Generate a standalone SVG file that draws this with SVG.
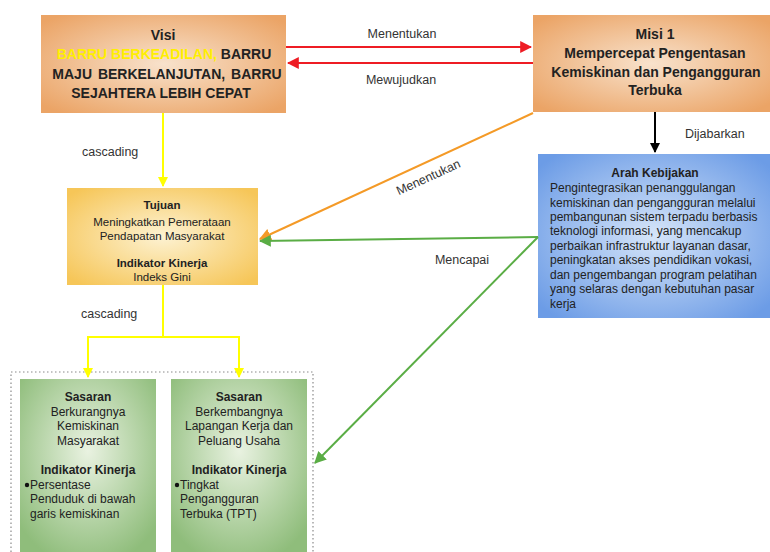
<svg xmlns="http://www.w3.org/2000/svg" width="770" height="552" viewBox="0 0 770 552">
<style>
text{font-family:"Liberation Sans",Arial,sans-serif;fill:#222}
.b{font-weight:bold}
.t12{font-size:12px}
.t11{font-size:11.5px}
.c{text-anchor:middle}
.lbl{font-size:12.5px;fill:#333}
.line{fill:none;stroke-width:2}
</style>
<defs>
<radialGradient id="gOr" cx="50%" cy="50%" r="65%">
<stop offset="0" stop-color="#f8e2cc"/><stop offset="1" stop-color="#eba466"/>
</radialGradient>
<radialGradient id="gYe" cx="50%" cy="50%" r="65%">
<stop offset="0" stop-color="#fdf2d2"/><stop offset="1" stop-color="#f6c658"/>
</radialGradient>
<radialGradient id="gBl" cx="50%" cy="50%" r="65%">
<stop offset="0" stop-color="#d6e5f9"/><stop offset="1" stop-color="#6c9ce6"/>
</radialGradient>
<radialGradient id="gGr" cx="50%" cy="40%" r="65%">
<stop offset="0" stop-color="#e9f2e1"/><stop offset="1" stop-color="#8fbd7b"/>
</radialGradient>
<marker id="aRed" viewBox="0 0 10 10" refX="9" refY="5" markerWidth="6" markerHeight="6" orient="auto" markerUnits="strokeWidth"><path d="M0,0 L10,5 L0,10z" fill="#ee1c24"/></marker>
<marker id="aYel" viewBox="0 0 10 10" refX="9" refY="5" markerWidth="5" markerHeight="5" orient="auto" markerUnits="strokeWidth"><path d="M0,0 L10,5 L0,10z" fill="#ffff00"/></marker>
<marker id="aBlk" viewBox="0 0 10 10" refX="9" refY="5" markerWidth="5" markerHeight="5" orient="auto" markerUnits="strokeWidth"><path d="M0,0 L10,5 L0,10z" fill="#000"/></marker>
<marker id="aOr" viewBox="0 0 10 10" refX="9" refY="5" markerWidth="6" markerHeight="6" orient="auto" markerUnits="strokeWidth"><path d="M0,0 L10,5 L0,10z" fill="#f49a27"/></marker>
<marker id="aGr" viewBox="0 0 10 10" refX="9" refY="5" markerWidth="6" markerHeight="6" orient="auto" markerUnits="strokeWidth"><path d="M0,0 L10,5 L0,10z" fill="#5aad45"/></marker>
</defs>

<g id="container">
<rect x="11" y="372" width="302" height="190" fill="none" stroke="#8a8a8a" stroke-width="1.2" stroke-dasharray="1.5 2.5"/>
</g>

<g id="visi">
<rect x="41" y="15" width="245" height="98" fill="url(#gOr)"/>
<text class="b c" x="163" y="40" font-size="14">Visi</text>
<text class="b c" x="164" y="59" font-size="14"><tspan style="fill:#ffef00">BARRU BERKEADILAN,</tspan> BARRU</text>
<text class="b c" x="167" y="79" font-size="14" word-spacing="2">MAJU BERKELANJUTAN, BARRU</text>
<text class="b c" x="161" y="98" font-size="14">SEJAHTERA LEBIH CEPAT</text>
</g>

<g id="misi">
<rect x="533" y="15" width="237" height="97" fill="url(#gOr)"/>
<text class="b c" x="655" y="39" font-size="14">Misi 1</text>
<text class="b c" x="655" y="58" font-size="14">Mempercepat Pengentasan</text>
<text class="b c" x="656" y="77" font-size="14">Kemiskinan dan Pengangguran</text>
<text class="b c" x="655" y="95" font-size="14">Terbuka</text>
</g>

<g id="arah">
<rect x="538" y="154" width="232" height="164" fill="url(#gBl)"/>
<text class="b c t12" x="655" y="177">Arah Kebijakan</text>
<text class="t12" x="550" y="192">Pengintegrasikan penanggulangan</text>
<text class="t12" x="550" y="207">kemiskinan dan pengangguran melalui</text>
<text class="t12" x="550" y="221">pembangunan sistem terpadu berbasis</text>
<text class="t12" x="550" y="235">teknologi informasi, yang mencakup</text>
<text class="t12" x="550" y="250">perbaikan infrastruktur layanan dasar,</text>
<text class="t12" x="550" y="264">peningkatan akses pendidikan vokasi,</text>
<text class="t12" x="550" y="279">dan pengembangan program pelatihan</text>
<text class="t12" x="550" y="293">yang selaras dengan kebutuhan pasar</text>
<text class="t12" x="550" y="308">kerja</text>
</g>

<g id="tujuan">
<rect x="67" y="188" width="191" height="97" fill="url(#gYe)"/>
<text class="b c t11" x="162" y="209">Tujuan</text>
<text class="c t11" x="162" y="226">Meningkatkan  Pemerataan</text>
<text class="c t11" x="162" y="240">Pendapatan Masyarakat</text>
<text class="b c t11" x="162" y="267">Indikator Kinerja</text>
<text class="c t11" x="162" y="281">Indeks Gini</text>
</g>

<g id="sasaran1">
<rect x="20" y="379" width="136" height="180" fill="url(#gGr)"/>
<text class="b c t12" x="88" y="401">Sasaran</text>
<text class="c t12" x="88" y="416">Berkurangnya</text>
<text class="c t12" x="88" y="430">Kemiskinan</text>
<text class="c t12" x="88" y="445">Masyarakat</text>
<text class="b c t12" x="88" y="474">Indikator Kinerja</text>
<circle cx="27" cy="485" r="2.2" fill="#111"/>
<text class="t12" x="30" y="489">Persentase</text>
<text class="t12" x="30" y="503">Penduduk di bawah</text>
<text class="t12" x="30" y="518">garis kemiskinan</text>
</g>

<g id="sasaran2">
<rect x="171" y="379" width="136" height="180" fill="url(#gGr)"/>
<text class="b c t12" x="239" y="401">Sasaran</text>
<text class="c t12" x="239" y="416">Berkembangnya</text>
<text class="c t12" x="239" y="430">Lapangan Kerja dan</text>
<text class="c t12" x="239" y="445">Peluang Usaha</text>
<text class="b c t12" x="239" y="474">Indikator Kinerja</text>
<circle cx="177" cy="485" r="2.2" fill="#111"/>
<text class="t12" x="180" y="489">Tingkat</text>
<text class="t12" x="180" y="503">Pengangguran</text>
<text class="t12" x="180" y="518">Terbuka (TPT)</text>
</g>

<g id="connectors">
<line class="line" x1="286" y1="47" x2="531" y2="47" stroke="#ee1c24" marker-end="url(#aRed)"/>
<line class="line" x1="533" y1="63" x2="288" y2="63" stroke="#ee1c24" marker-end="url(#aRed)"/>
<text class="lbl c" x="402" y="38">Menentukan</text>
<text class="lbl c" x="401" y="84">Mewujudkan</text>
<line class="line" x1="655" y1="112" x2="655" y2="152" stroke="#000" marker-end="url(#aBlk)"/>
<text class="lbl" x="685" y="138">Dijabarkan</text>
<line class="line" x1="163" y1="113" x2="163" y2="186" stroke="#ffff00" marker-end="url(#aYel)"/>
<text class="lbl" x="82" y="156">cascading</text>
<polyline class="line" points="163,285 163,337 88,337 88,377" stroke="#ffff00" marker-end="url(#aYel)"/>
<polyline class="line" points="163,337 239,337 239,377" stroke="#ffff00" marker-end="url(#aYel)"/>
<text class="lbl" x="81" y="318">cascading</text>
<line class="line" x1="533" y1="113" x2="260" y2="239" stroke="#f49a27" marker-end="url(#aOr)"/>
<text class="lbl c" transform="translate(430,181) rotate(-24.6)">Menentukan</text>
<line class="line" x1="538" y1="237" x2="260" y2="241" stroke="#5aad45" marker-end="url(#aGr)"/>
<line class="line" x1="538" y1="237" x2="315" y2="463" stroke="#5aad45" marker-end="url(#aGr)"/>
<text class="lbl c" x="462" y="264">Mencapai</text>
</g>
</svg>
